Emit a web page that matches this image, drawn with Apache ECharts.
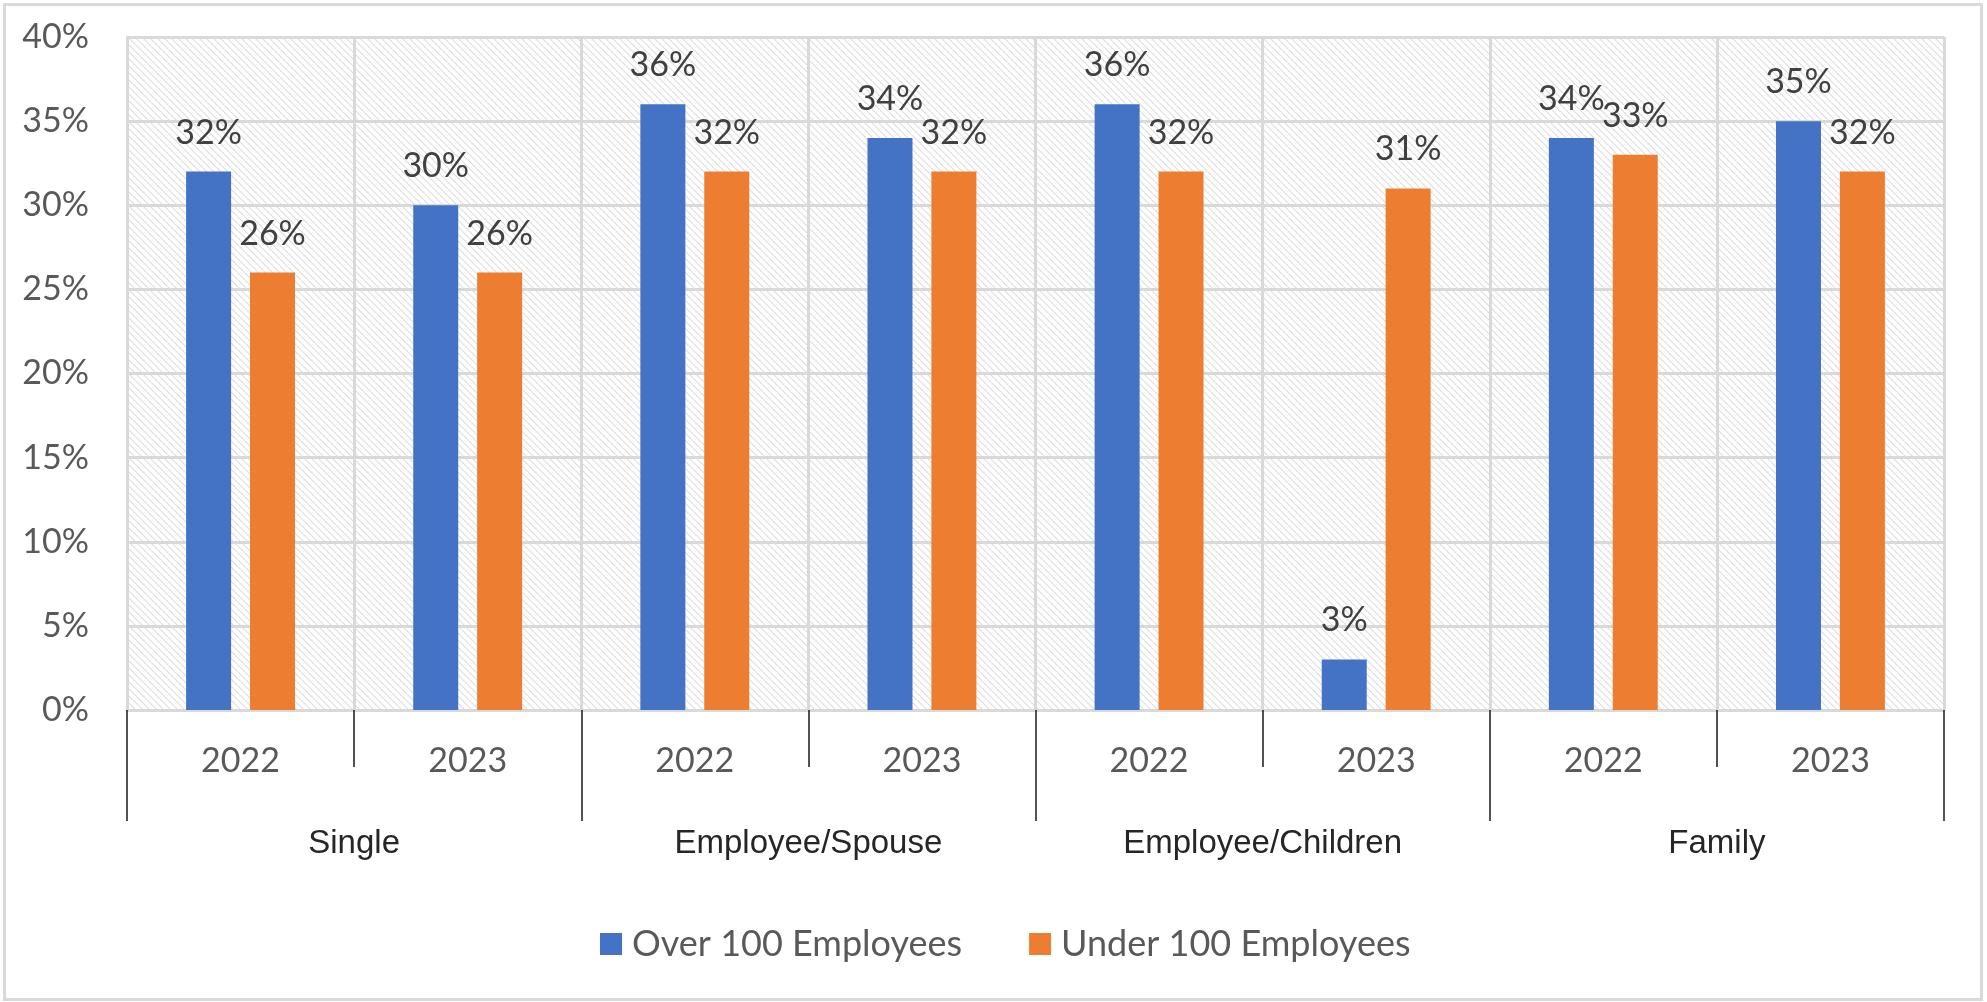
<!DOCTYPE html>
<html>
<head>
<meta charset="utf-8">
<script src="https://cdn.jsdelivr.net/npm/echarts@6/dist/echarts.min.js"></script>
<style>
  html, body { margin: 0; padding: 0; background: #fff; }
  #chart { width: 1987px; height: 1002px; }
</style>
</head>
<body>
<div id="chart"></div>
<script>
// Premium share by coverage tier and year
const years = ['2022', '2023', '2022', '2023', '2022', '2023', '2022', '2023'];
const tiers = ['Single', 'Employee/Spouse', 'Employee/Children', 'Family'];
const seriesNames = ['Over 100 Employees', 'Under 100 Employees'];
const over100 = [32, 30, 36, 34, 36, 3, 34, 35];
const under100 = [26, 26, 32, 32, 32, 31, 33, 32];
const yTicks = { min: 0, max: 40, step: 5 };

// Light diagonal hatch used as the plot background
function hatchPattern() {
  const s = 7;
  const c = document.createElement('canvas');
  c.width = s; c.height = s;
  const g = c.getContext('2d');
  g.fillStyle = '#ffffff';
  g.fillRect(0, 0, s, s);
  g.strokeStyle = '#dcdcdc';
  g.lineWidth = 1.1;
  for (const off of [-s, 0, s]) {
    g.beginPath();
    g.moveTo(off, 0);
    g.lineTo(off + s, s);
    g.stroke();
  }
  return { image: c, repeat: 'repeat' };
}

const numFont = 'Lato';
const grey = '#595959';
const gridGrey = '#d9d9d9';

const chart = echarts.init(document.getElementById('chart'), null, { renderer: 'canvas' });

chart.setOption({
  animation: false,
  backgroundColor: '#ffffff',
  graphic: [{
    type: 'rect',
    shape: { x: 4.5, y: 4.5, width: 1977, height: 995 },
    style: { fill: 'none', stroke: gridGrey, lineWidth: 3 },
    silent: true,
    z: -1
  }],
  grid: {
    left: 127, top: 37, width: 1817, height: 673,
    show: true,
    borderWidth: 0,
    backgroundColor: hatchPattern()
  },
  legend: {
    data: seriesNames,
    left: 595,
    top: 921,
    itemWidth: 22,
    itemHeight: 22,
    itemGap: 67,
    icon: 'rect',
    textStyle: { fontFamily: numFont, fontSize: 36, color: grey, padding: [0, 0, 0, 5] }
  },
  xAxis: [{
    type: 'category',
    data: years,
    position: 'bottom',
    axisLine: { show: true, lineStyle: { color: gridGrey, width: 3 } },
    axisTick: { show: true, interval: 0, length: 57, lineStyle: { color: '#1a1a1a', width: 1.5 } },
    axisLabel: { interval: 0, margin: 34, fontFamily: numFont, fontSize: 34, color: grey },
    splitLine: { show: true, interval: 0, lineStyle: { color: gridGrey, width: 3 } }
  }, {
    type: 'category',
    data: tiers,
    position: 'bottom',
    offset: 0,
    axisLine: { show: false },
    axisTick: { show: true, interval: 0, length: 111, lineStyle: { color: '#1a1a1a', width: 1.5 } },
    axisLabel: { interval: 0, margin: 117, fontFamily: 'Liberation Sans', fontSize: 33, color: '#262626' },
    splitLine: { show: false }
  }],
  yAxis: {
    type: 'value',
    min: yTicks.min,
    max: yTicks.max,
    interval: yTicks.step,
    axisLine: { show: true, lineStyle: { color: gridGrey, width: 3 } },
    axisTick: { show: false },
    axisLabel: { formatter: '{value}%', margin: 38, fontFamily: numFont, fontSize: 34, color: grey },
    splitLine: { show: true, lineStyle: { color: gridGrey, width: 3 } }
  },
  series: [over100, under100].map((vals, i) => ({
    name: seriesNames[i],
    type: 'bar',
    xAxisIndex: 0,
    data: vals,
    barWidth: 45,
    barGap: '42%',
    itemStyle: { color: i === 0 ? '#4472c4' : '#ed7d31' },
    label: {
      show: true,
      position: 'top',
      distance: 22,
      formatter: '{c}%',
      fontFamily: numFont,
      fontSize: 34,
      color: '#404040'
    }
  }))
});
</script>
</body>
</html>
